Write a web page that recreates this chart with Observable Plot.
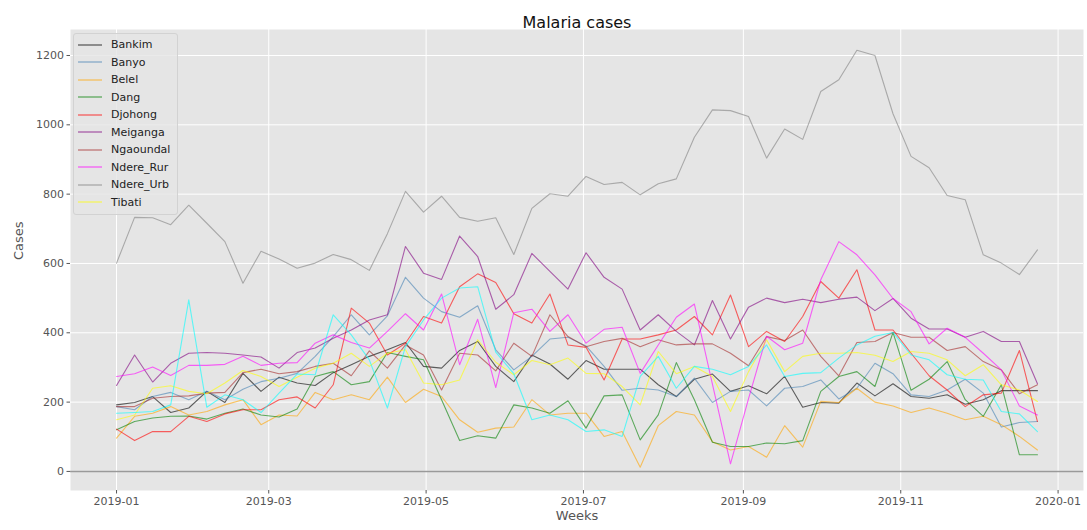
<!DOCTYPE html>
<html>
<head>
<meta charset="utf-8">
<script src="https://cdn.jsdelivr.net/npm/d3@7"></script>
<script src="https://cdn.jsdelivr.net/npm/@observablehq/plot@0.6"></script>
<style>
  body { margin: 0; background: #fff; font-family: "DejaVu Sans", sans-serif; }
  #chart { position: relative; width: 1087px; height: 530px; }
  .legend { position: absolute; left: 73px; top: 33px; width: 105px; padding: 2px 0 3px 0;
            border: 1px solid #d2d2d2; border-radius: 3px; background: rgba(229,229,229,0.8);
            box-sizing: border-box; }
  .legend .item { height: 17.5px; display: flex; align-items: center; font-size: 11px; color: #222; }
  .legend svg { margin-left: 4px; margin-right: 9px; flex: none; }
</style>
</head>
<body>
<div id="chart"></div>
<script>
// Weekly malaria case counts per health district, 2019
const bankim    = [192,199,216,170,183,231,199,283,231,272,255,248,285,308,332,351,372,303,298,349,375,303,259,336,310,266,320,295,295,295,250,216,266,281,231,247,224,274,185,199,197,255,218,253,216,211,221,194,207,233,233,233];
const banyo     = [187,178,216,228,207,231,207,237,259,269,283,332,389,452,394,449,560,500,461,445,478,351,293,332,382,387,362,303,234,240,235,216,269,199,231,235,189,240,245,264,209,240,312,282,221,216,235,266,226,128,141,144];
const belel     = [96,159,168,187,163,173,192,207,135,163,160,228,207,221,207,272,199,237,216,149,113,125,128,207,163,168,168,101,115,12,132,173,163,86,62,72,41,132,70,202,199,240,200,189,170,183,168,149,159,135,101,62];
const dang      = [120,144,154,159,160,151,168,180,163,157,180,274,288,250,259,343,332,322,207,89,103,96,192,183,168,204,125,218,221,91,163,314,207,84,72,72,82,80,89,231,274,288,245,401,234,266,317,207,159,250,48,48];
const djohong   = [122,89,115,115,159,144,166,178,178,207,215,183,250,471,428,336,370,447,428,533,570,545,455,428,512,365,358,264,382,382,394,408,447,394,509,360,404,375,447,548,500,582,408,408,341,276,235,187,221,226,349,144];
const meiganga  = [248,336,258,312,341,343,341,336,330,298,343,356,384,408,437,452,649,572,554,679,620,468,510,629,577,526,631,560,526,408,452,404,365,493,382,474,500,487,497,487,497,503,464,499,442,411,411,387,404,375,375,253];
const ngaoundal = [187,187,211,216,218,226,228,285,295,282,288,303,312,276,348,298,365,336,235,341,336,290,370,332,452,389,360,375,384,360,380,365,368,368,341,305,389,378,408,332,276,372,375,401,387,387,349,360,317,293,224,250];
const ndereRur  = [274,282,301,277,306,306,309,332,306,312,314,370,394,372,356,404,455,408,512,308,439,242,458,468,404,452,370,410,416,283,365,445,483,252,22,210,390,351,370,553,663,625,567,499,461,368,413,387,341,293,189,163];
const ndereUrb  = [601,733,732,712,768,716,663,543,635,613,586,601,626,611,580,686,808,748,794,733,722,732,626,759,801,794,851,828,834,798,830,844,964,1043,1041,1024,904,988,958,1096,1130,1215,1200,1032,909,876,796,784,625,601,568,639];
const tibati    = [149,163,240,247,231,224,255,291,274,245,272,298,312,341,303,341,351,255,250,264,380,315,279,320,308,327,283,282,245,192,346,282,303,274,173,288,380,288,332,341,341,343,335,317,346,341,322,276,308,250,235,202];
const tignere   = [168,170,173,192,495,185,221,207,170,226,281,279,452,394,322,183,360,437,500,529,533,344,282,149,163,149,115,120,101,274,332,240,303,295,279,303,365,274,283,285,327,365,390,401,336,322,279,266,264,173,166,115];

const districts    = ["Bankim","Banyo","Belel","Dang","Djohong","Meiganga","Ngaoundal","Ndere_Rur","Ndere_Urb","Tibati","Tignere"];
const districtData = [bankim, banyo, belel, dang, djohong, meiganga, ngaoundal, ndereRur, ndereUrb, tibati, tignere];
const lineColors   = ["#000000","#4682b4","#ffa500","#008000","#ff0000","#800080","#a52a2a","#ff00ff","#808080","#ffff00","#00ffff"];
const legendCount  = 10; // the legend lists the first ten districts

const yTicks = [0, 200, 400, 600, 800, 1000, 1200];
const xTickLabels = ["2019-01-01","2019-03-01","2019-05-01","2019-07-01","2019-09-01","2019-11-01","2020-01-01"];

// one observation per week, starting on the first day of 2019
const firstWeek = new Date(Date.UTC(2019, 0, 1));
const weeks = bankim.map((_, i) => d3.utcDay.offset(firstWeek, 7 * i));
const xTicks = xTickLabels.map(s => new Date(s + "T00:00:00Z"));

// 5% padding on both ends of the date range
const span = +weeks[weeks.length - 1] - +weeks[0];
const xDomain = [new Date(+weeks[0] - span * 0.05), new Date(+weeks[weeks.length - 1] + span * 0.05)];

const rows = districts.flatMap((name, s) =>
  districtData[s].map((v, i) => ({district: name, week: weeks[i], cases: v})));

const chart = Plot.plot({
  width: 1087,
  height: 530,
  marginLeft: 70,
  marginRight: 4,
  marginTop: 29,
  marginBottom: 40,
  style: {fontFamily: "DejaVu Sans", background: "white", overflow: "visible"},
  x: {type: "utc", domain: xDomain},
  y: {domain: [-55, 1275]},
  color: {domain: districts, range: lineColors},
  marks: [
    Plot.frame({fill: "#E5E5E5"}),
    Plot.gridX({ticks: xTicks, stroke: "white", strokeOpacity: 1, strokeWidth: 1}),
    Plot.gridY({ticks: yTicks, stroke: "white", strokeOpacity: 1, strokeWidth: 1}),
    Plot.axisX({ticks: xTicks, tickFormat: d3.utcFormat("%Y-%m"), tickSize: 3.5, tickPadding: 3,
                fontSize: 11, color: "#555", label: null}),
    Plot.axisY({ticks: yTicks, tickFormat: d => String(d), tickSize: 3.5, tickPadding: 3,
                fontSize: 11, color: "#555", label: null}),
    Plot.ruleY([0], {stroke: "#9a9a9a", strokeWidth: 1.6}),
    Plot.line(rows, {x: "week", y: "cases", z: "district", stroke: "district",
                     strokeOpacity: 0.6, strokeWidth: 1.1}),
    Plot.text(["Malaria cases"], {text: d => d, frameAnchor: "top", dy: -13, fontSize: 16, fill: "#111"}),
    Plot.text(["Weeks"], {text: d => d, frameAnchor: "bottom", dy: 29, fontSize: 13, fill: "#555"}),
    Plot.text(["Cases"], {text: d => d, frameAnchor: "left", dx: -52, rotate: -90, fontSize: 13, fill: "#555"})
  ]
});

const host = document.getElementById("chart");
host.appendChild(chart);

// legend box in the upper-left corner of the plot area
const svgNS = "http://www.w3.org/2000/svg";
const legend = document.createElement("div");
legend.className = "legend";
districts.slice(0, legendCount).forEach((name, i) => {
  const item = document.createElement("div");
  item.className = "item";
  const sw = document.createElementNS(svgNS, "svg");
  sw.setAttribute("width", 24);
  sw.setAttribute("height", 6);
  const ln = document.createElementNS(svgNS, "line");
  ln.setAttribute("x1", 0); ln.setAttribute("x2", 24);
  ln.setAttribute("y1", 3); ln.setAttribute("y2", 3);
  ln.setAttribute("stroke", lineColors[i]);
  ln.setAttribute("stroke-opacity", 0.6);
  ln.setAttribute("stroke-width", 1.3);
  sw.appendChild(ln);
  const label = document.createElement("span");
  label.textContent = name;
  item.appendChild(sw);
  item.appendChild(label);
  legend.appendChild(item);
});
host.appendChild(legend);
</script>
</body>
</html>
